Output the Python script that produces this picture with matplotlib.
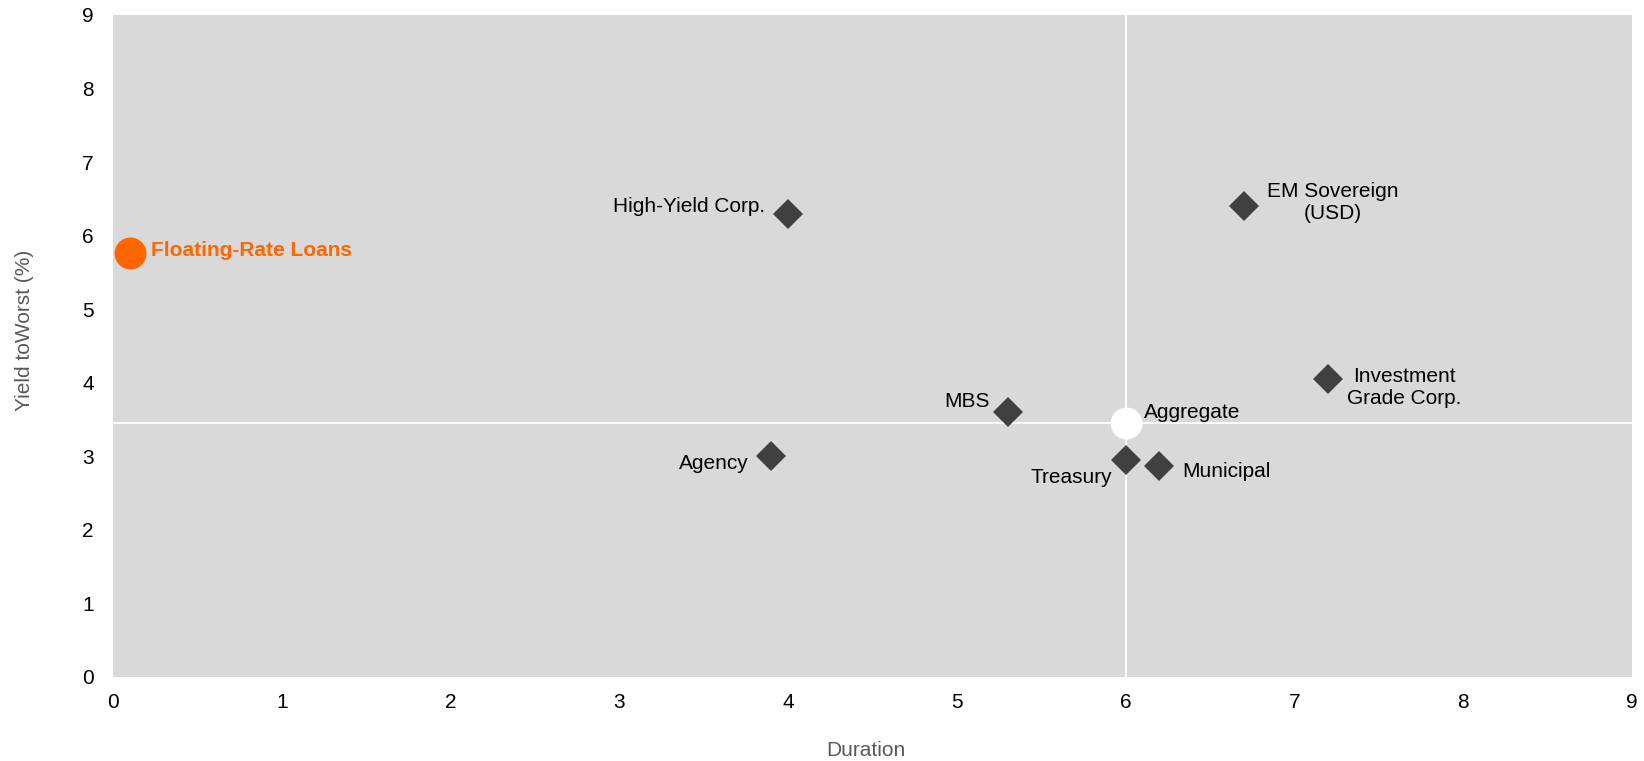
import matplotlib
matplotlib.use("Agg")
import matplotlib.pyplot as plt

plt.rcParams["font.family"] = ["Liberation Sans", "DejaVu Sans"]

# Duration / yield-to-worst by fixed-income sector
sectors = ["High-Yield Corp.", "EM Sovereign\n(USD)", "Investment\nGrade Corp.", "MBS",
           "Agency", "Treasury", "Municipal"]
durations = [4.0, 6.7, 7.2, 5.3, 3.9, 6.0, 6.2]
yields = [6.3, 6.4, 4.05, 3.6, 3.0, 2.95, 2.87]

# label offsets (points, to the last line's baseline) and alignment for each sector
label_offsets = [(-16.5, 1.5), (64, -9.4), (55, -18), (-13, 3.6), (-16, -9.4), (-9.4, -16.6), (16.6, -8)]
label_ha = ["right", "center", "center", "right", "right", "right", "left"]

loans_name = "Floating-Rate Loans"
loans_duration = 0.1
loans_yield = 5.76

agg_name = "Aggregate"
agg_duration = 6.0
agg_yield = 3.45

x_ticks = list(range(0, 10))
y_ticks = list(range(0, 10))

fig = plt.figure(figsize=(16.44, 7.61), dpi=100)
ax = fig.add_axes([113 / 1644, 1 - 677 / 761, (1632 - 113) / 1644, (677 - 15) / 761])
ax.set_facecolor("#D9D9D9")
for s in ax.spines.values():
    s.set_visible(False)

ax.set_xlim(0, 9)
ax.set_ylim(0, 9)
ax.set_xticks(x_ticks)
ax.set_yticks(y_ticks)
ax.tick_params(length=0, labelsize=15, colors="black")
ax.tick_params(axis="x", pad=11.5)
ax.tick_params(axis="y", pad=13.7)

# crosshair through the aggregate index
ax.axhline(agg_yield, color="white", lw=1.3, zorder=1)
ax.axvline(agg_duration, color="white", lw=1.3, zorder=1)

ax.plot(durations, yields, linestyle="none", marker="D", markersize=15.5,
        color="#404040", markeredgewidth=0, zorder=3)
for name, x, y, off, ha in zip(sectors, durations, yields, label_offsets, label_ha):
    ax.annotate(name, (x, y), xytext=off, textcoords="offset points",
                ha=ha, va="baseline", multialignment="center",
                fontsize=15, color="black", zorder=5)

ax.plot([agg_duration], [agg_yield], linestyle="none", marker="o", markersize=23,
        color="white", markeredgewidth=0, zorder=4)
ax.annotate(agg_name, (agg_duration, agg_yield), xytext=(13, 3.6), textcoords="offset points",
            ha="left", va="baseline", fontsize=15, color="black", zorder=5)

ax.plot([loans_duration], [loans_yield], linestyle="none", marker="o", markersize=23,
        color="#FF6600", markeredgewidth=0, zorder=4)
ax.annotate(loans_name, (loans_duration, loans_yield), xytext=(15, -2), textcoords="offset points",
            ha="left", va="baseline", fontsize=15, fontweight="bold", color="#FF6600", zorder=5)

fig.text(866 / 1644, 1 - 750 / 761, "Duration", ha="center", va="center",
         fontsize=15, color="#595959")
fig.text(24 / 1644, 1 - 330 / 761, "Yield toWorst (%)", ha="center", va="center",
         rotation=90, fontsize=15, color="#595959")

fig.savefig("out.png", dpi=100)
